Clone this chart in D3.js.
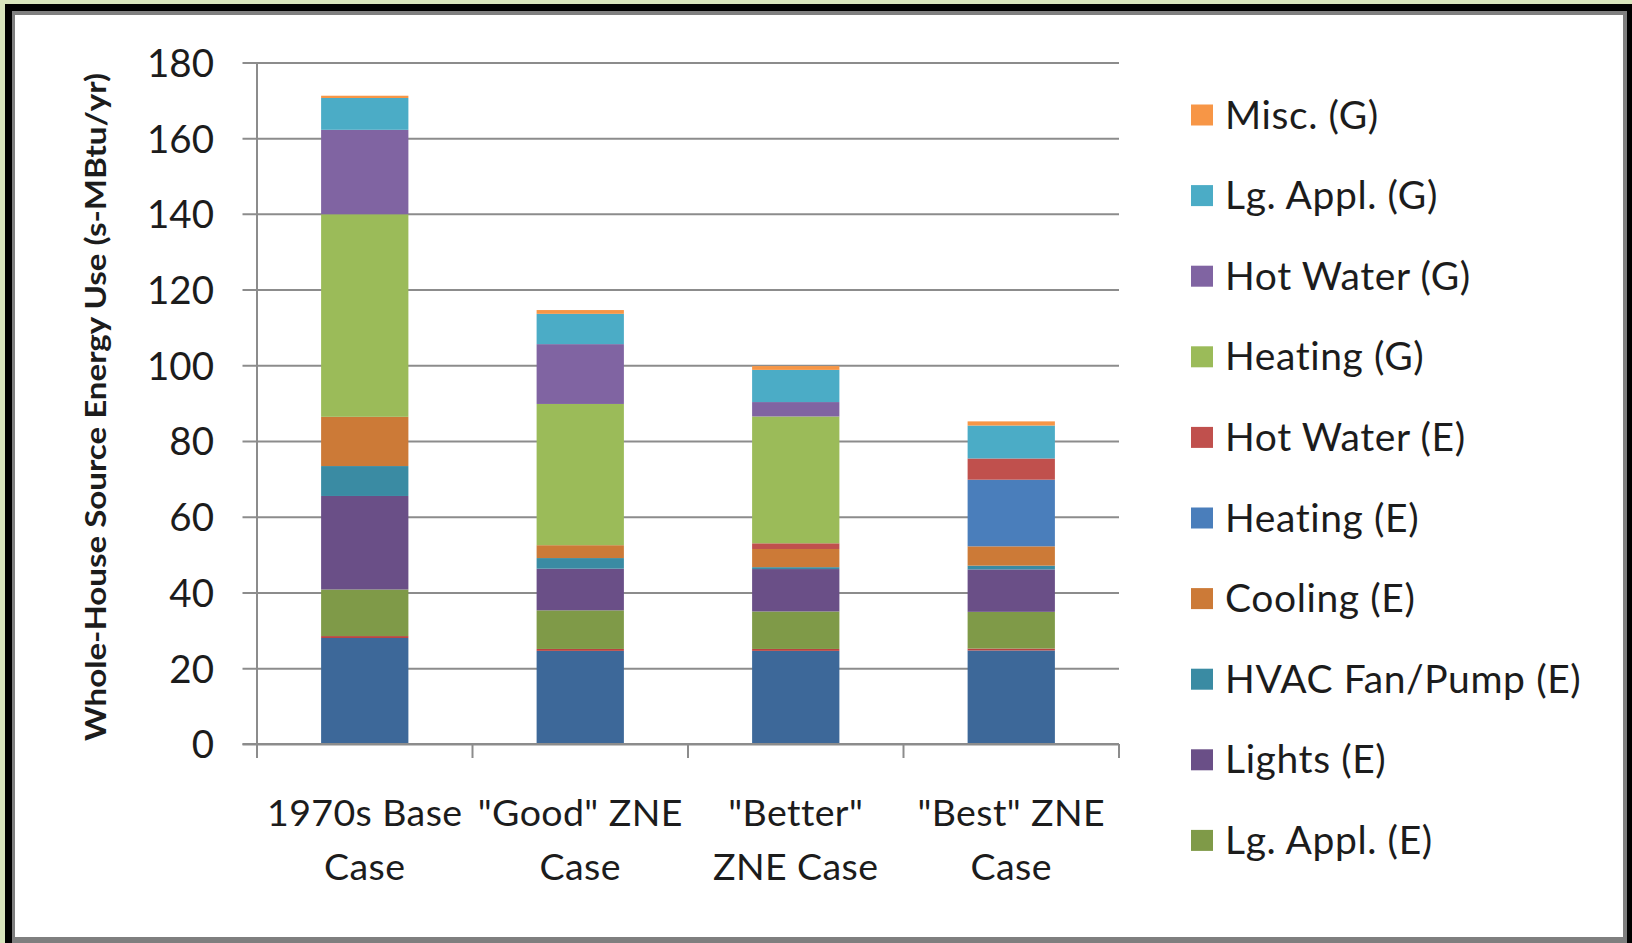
<!DOCTYPE html>
<html>
<head>
<meta charset="utf-8">
<script src="https://cdn.jsdelivr.net/npm/d3@7"></script>
<style>
  html, body { margin: 0; padding: 0; background: #d8e4bc; }
  svg { display: block; }
  text { font-family: Lato, "Open Sans", sans-serif; fill: #1c1c1c; font-variant-ligatures: none; font-feature-settings: "liga" 0; }
</style>
</head>
<body>
<svg id="chart"></svg>
<script>

// categories, as Excel wrapped them
var categories = ["1970s Base Case", "\"Good\" ZNE Case", "\"Better\" ZNE Case", "\"Best\" ZNE Case"];
var categoryLines = [["1970s Base", "Case"], ["\"Good\" ZNE", "Case"], ["\"Better\"", "ZNE Case"], ["\"Best\" ZNE", "Case"]];

// series, bottom of the stack first (first two are cut off the legend in the original)
var seriesNames = ["Misc. (E)", "Cooking (E)", "Lg. Appl. (E)", "Lights (E)", "HVAC Fan/Pump (E)", "Cooling (E)",
                   "Heating (E)", "Hot Water (E)", "Heating (G)", "Hot Water (G)", "Lg. Appl. (G)", "Misc. (G)"];
var seriesColors = ["#3d6899", "#b8423f", "#7f9a48", "#6a4f87", "#3a8ba3", "#cc7a37",
                    "#4a7ebb", "#c0504d", "#9bbb59", "#8064a2", "#4bacc6", "#f79646"];

var miscE     = [28.0, 24.6, 24.6, 24.7];
var cookingE  = [0.5, 0.5, 0.5, 0.5];
var lgApplE   = [12.3, 10.2, 9.9, 9.7];
var lightsE   = [24.7, 11.0, 11.2, 11.2];
var hvacE     = [7.9, 2.8, 0.5, 1.0];
var coolingE  = [13.0, 3.4, 4.8, 5.1];
var heatingE  = [0, 0, 0, 17.6];
var hotWaterE = [0, 0, 1.5, 5.6];
var heatingG  = [53.5, 37.3, 33.5, 0];
var hotWaterG = [22.3, 15.8, 3.8, 0];
var lgApplG   = [8.4, 8.0, 8.5, 8.7];
var miscG     = [0.6, 1.0, 1.0, 1.1];

var yTicks = [0, 20, 40, 60, 80, 100, 120, 140, 160, 180];
var legendCount = 10;   // only the top ten fit in the legend box

var seriesValues = [miscE, cookingE, lgApplE, lightsE, hvacE, coolingE, heatingE, hotWaterE, heatingG, hotWaterG, lgApplG, miscG];

var W = 1632, H = 943;
var svg = d3.select("#chart").attr("width", W).attr("height", H);

// frame: black border, grey bevel, white plate
svg.append("rect").attr("x", 0).attr("y", 0).attr("width", W).attr("height", H).attr("fill", "#d8e4bc");
svg.append("rect").attr("x", 5).attr("y", 4).attr("width", W).attr("height", H).attr("fill", "#000");
svg.append("rect").attr("x", 12).attr("y", 11).attr("width", 1615).attr("height", H).attr("fill", "#7f7f7f");
svg.append("rect").attr("x", 15).attr("y", 15).attr("width", 1608).attr("height", 922).attr("fill", "#fff");

var margin = {top: 62.4, left: 257, right: 1119, bottom: 744};

var rows = categories.map(function(c, i) {
  var r = {cat: c};
  seriesNames.forEach(function(s, j) { r[s] = seriesValues[j][i]; });
  return r;
});

var x = d3.scaleBand().domain(categories).range([margin.left, margin.right]).padding(0);
var xBar = d3.scaleBand().domain(categories).range([margin.left, margin.right])
    .paddingInner(0.595).paddingOuter(0.2975);
var y = d3.scaleLinear().domain([0, 180]).range([margin.bottom, margin.top]);

// gridlines + y axis
var yAxis = d3.axisLeft(y).tickValues(yTicks).tickSize(-(margin.right - margin.left)).tickSizeOuter(0).tickFormat(d3.format("d"));
var gy = svg.append("g").attr("transform", "translate(" + margin.left + ",0)").call(yAxis);
gy.select(".domain").remove();
gy.selectAll(".tick line").attr("stroke", "#8c8c8c").attr("stroke-width", 2).attr("x2", margin.right - margin.left).attr("x1", -14.5);
gy.selectAll(".tick text").attr("x", -43).attr("font-size", 38.5).attr("fill", "#1c1c1c").attr("dy", "0.36em");

// bars
svg.append("g")
  .selectAll("g")
  .data(d3.stack().keys(seriesNames)(rows))
  .enter().append("g")
    .attr("fill", function(d, i) { return seriesColors[i]; })
  .selectAll("rect")
  .data(function(d) { return d; })
  .enter().append("rect")
    .attr("x", function(d) { return xBar(d.data.cat); })
    .attr("y", function(d) { return y(d[1]); })
    .attr("height", function(d) { return y(d[0]) - y(d[1]); })
    .attr("width", xBar.bandwidth());

// axis lines
svg.append("line").attr("x1", margin.left).attr("x2", margin.left).attr("y1", margin.top).attr("y2", margin.bottom + 14)
  .attr("stroke", "#8c8c8c").attr("stroke-width", 2);
svg.append("line").attr("x1", margin.left - 14.5).attr("x2", margin.right).attr("y1", margin.bottom).attr("y2", margin.bottom)
  .attr("stroke", "#8c8c8c").attr("stroke-width", 2);

// category tick marks sit on the band edges
var edges = categories.map(function(c) { return x(c); }).concat([margin.right]);
svg.append("g").selectAll("line").data(edges).enter().append("line")
  .attr("x1", function(d) { return d; }).attr("x2", function(d) { return d; })
  .attr("y1", margin.bottom).attr("y2", margin.bottom + 14)
  .attr("stroke", "#8c8c8c").attr("stroke-width", 2);

// category labels
var labels = svg.append("g").selectAll("text").data(categories).enter().append("text")
  .attr("text-anchor", "middle")
  .attr("font-size", 37.5)
  .attr("letter-spacing", 0.4)
  .attr("transform", function(d) { return "translate(" + (x(d) + x.bandwidth() / 2) + ",826)"; });
labels.selectAll("tspan").data(function(d, i) { return categoryLines[i]; }).enter().append("tspan")
  .attr("x", 0).attr("y", function(d, i) { return i * 54; })
  .text(function(d) { return d; });

// y title
svg.append("text")
  .attr("transform", "translate(106,407) rotate(-90)")
  .attr("text-anchor", "middle")
  .attr("font-size", 28)
  .attr("font-weight", "bold")
  .attr("textLength", 668)
  .attr("lengthAdjust", "spacingAndGlyphs")
  .text("Whole-House Source Energy Use (s-MBtu/yr)");

// legend, top series first
var legendItems = d3.range(seriesNames.length - 1, seriesNames.length - 1 - legendCount, -1);
var legend = svg.append("g").selectAll("g").data(legendItems).enter().append("g")
  .attr("transform", function(d, i) { return "translate(1191," + (114.5 + i * 80.6) + ")"; });
legend.append("rect").attr("x", 0).attr("y", -10).attr("width", 22).attr("height", 21)
  .attr("fill", function(d) { return seriesColors[d]; });
legend.append("text").attr("x", 34).attr("dy", "0.36em").attr("font-size", 39).attr("letter-spacing", 0.6)
  .text(function(d) { return seriesNames[d]; });

</script>
</body>
</html>
